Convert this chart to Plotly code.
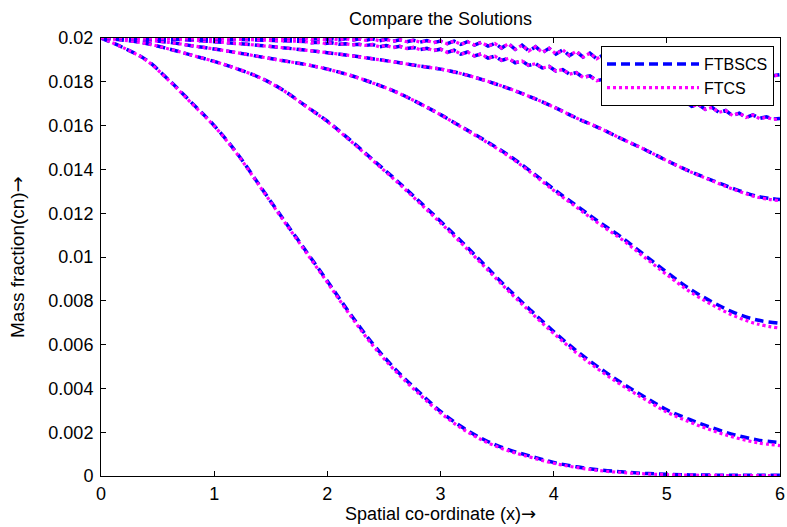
import plotly.graph_objects as go

# ---------------- data ----------------
x_coarse = [0.0, 0.2, 0.4, 0.6, 0.8, 1.0, 1.2, 1.4, 1.6, 1.8, 2.0, 2.2, 2.4, 2.6, 2.8,
            3.0, 3.2, 3.4, 3.6, 3.8, 4.0, 4.2, 4.4, 4.6, 4.8, 5.0, 5.2, 5.4, 5.6, 5.8, 6.0]

x_osc = [0.0, 0.6, 1.2,
         1.80, 1.86, 1.92, 1.98, 2.04, 2.10, 2.16, 2.22, 2.28, 2.34,
         2.40, 2.46, 2.52, 2.58, 2.64, 2.70, 2.76, 2.82, 2.88, 2.94,
         3.00, 3.06, 3.12, 3.18, 3.24, 3.30, 3.36, 3.42, 3.48, 3.54,
         3.60, 3.66, 3.72, 3.78, 3.84, 3.90, 3.96, 4.02, 4.08, 4.14,
         4.20, 4.26, 4.32, 4.38, 4.44, 4.50, 4.56, 4.62, 4.68, 4.74,
         4.80, 4.86, 4.92, 4.98, 5.04, 5.10, 5.16, 5.22, 5.28, 5.34,
         5.40, 5.46, 5.52, 5.58, 5.64, 5.70, 5.76, 5.82, 5.88, 5.94,
         6.00]

ftbscs_t1 = [0.02000, 0.01955, 0.01900, 0.01808, 0.01705, 0.01600, 0.01475, 0.01328, 0.01180,
             0.01035, 0.00890, 0.00742, 0.00605, 0.00488, 0.00388, 0.00295, 0.00220, 0.00162,
             0.00120, 0.00090, 0.00062, 0.00042, 0.00028, 0.00019, 0.00012, 0.00008, 0.00005,
             0.00004, 0.00003, 0.00003, 0.00003]
ftcs_t1 = [0.02000, 0.01955, 0.01898, 0.01806, 0.01702, 0.01598, 0.01472, 0.01325, 0.01176,
           0.01030, 0.00884, 0.00735, 0.00597, 0.00480, 0.00380, 0.00288, 0.00213, 0.00156,
           0.00115, 0.00085, 0.00058, 0.00039, 0.00025, 0.00016, 0.00010, 0.00006, 0.00004,
           0.00003, 0.00002, 0.00002, 0.00002]

ftbscs_t2 = [0.02000, 0.01990, 0.01975, 0.01950, 0.01922, 0.01893, 0.01860, 0.01820, 0.01765,
             0.01693, 0.01620, 0.01535, 0.01445, 0.01355, 0.01260, 0.01163, 0.01063, 0.00958,
             0.00853, 0.00755, 0.00660, 0.00572, 0.00495, 0.00425, 0.00362, 0.00302, 0.00258,
             0.00220, 0.00188, 0.00165, 0.00152]
ftcs_t2 = [0.02000, 0.01990, 0.01975, 0.01950, 0.01922, 0.01893, 0.01860, 0.01820, 0.01764,
           0.01692, 0.01618, 0.01532, 0.01441, 0.01350, 0.01254, 0.01156, 0.01055, 0.00950,
           0.00845, 0.00746, 0.00651, 0.00563, 0.00485, 0.00415, 0.00352, 0.00292, 0.00247,
           0.00208, 0.00176, 0.00152, 0.00139]

ftbscs_t3 = [0.02000, 0.01998, 0.01990, 0.01980, 0.01965, 0.01950, 0.01933, 0.01915, 0.01897,
             0.01880, 0.01858, 0.01830, 0.01795, 0.01755, 0.01705, 0.01650, 0.01590, 0.01530,
             0.01465, 0.01390, 0.01310, 0.01235, 0.01160, 0.01090, 0.01010, 0.00930, 0.00855,
             0.00795, 0.00745, 0.00712, 0.00697]
ftcs_t3 = [0.02000, 0.01998, 0.01990, 0.01980, 0.01965, 0.01950, 0.01933, 0.01915, 0.01897,
           0.01880, 0.01858, 0.01830, 0.01795, 0.01755, 0.01705, 0.01650, 0.01588, 0.01527,
           0.01461, 0.01385, 0.01304, 0.01228, 0.01152, 0.01081, 0.01000, 0.00919, 0.00843,
           0.00782, 0.00730, 0.00694, 0.00675]

ftbscs_t4 = [0.02000, 0.02000, 0.01998, 0.01995, 0.01990, 0.01983, 0.01975, 0.01966, 0.01956,
             0.01945, 0.01933, 0.01920, 0.01905, 0.01890, 0.01873, 0.01858, 0.01835, 0.01805,
             0.01770, 0.01730, 0.01685, 0.01635, 0.01590, 0.01540, 0.01492, 0.01440, 0.01392,
             0.01350, 0.01310, 0.01277, 0.01262]
ftcs_t4 = [0.02000, 0.02000, 0.01998, 0.01995, 0.01990, 0.01983, 0.01975, 0.01966, 0.01956,
           0.01945, 0.01933, 0.01920, 0.01905, 0.01890, 0.01873, 0.01858, 0.01835, 0.01805,
           0.01770, 0.01730, 0.01685, 0.01635, 0.01590, 0.01540, 0.01492, 0.01440, 0.01391,
           0.01348, 0.01307, 0.01273, 0.01257]

ftbscs_t5 = [0.02000, 0.01999, 0.01994,
             0.01984, 0.01978, 0.01981, 0.01975, 0.01978, 0.01972, 0.01974, 0.01969, 0.01971, 0.01966,
             0.01970, 0.01960, 0.01966, 0.01956, 0.01962, 0.01952, 0.01957, 0.01947, 0.01953, 0.01943,
             0.01949, 0.01934, 0.01944, 0.01926, 0.01936, 0.01918, 0.01927, 0.01908, 0.01917, 0.01898,
             0.01907, 0.01887, 0.01895, 0.01875, 0.01883, 0.01863, 0.01870, 0.01849, 0.01856, 0.01835,
             0.01842, 0.01820, 0.01827, 0.01805, 0.01812, 0.01790, 0.01794, 0.01773, 0.01776, 0.01755,
             0.01758, 0.01737, 0.01740, 0.01719, 0.01725, 0.01702, 0.01711, 0.01688, 0.01696, 0.01674,
             0.01683, 0.01660, 0.01669, 0.01646, 0.01657, 0.01637, 0.01649, 0.01633, 0.01640, 0.01630,
             0.01632]
ftcs_t5 = [0.02000, 0.01999, 0.01994,
           0.01984, 0.01978, 0.01981, 0.01975, 0.01978, 0.01972, 0.01974, 0.01969, 0.01971, 0.01966,
           0.01970, 0.01960, 0.01966, 0.01956, 0.01962, 0.01952, 0.01957, 0.01947, 0.01953, 0.01943,
           0.01949, 0.01934, 0.01944, 0.01926, 0.01936, 0.01918, 0.01927, 0.01908, 0.01917, 0.01898,
           0.01907, 0.01887, 0.01895, 0.01875, 0.01883, 0.01863, 0.01870, 0.01849, 0.01856, 0.01835,
           0.01842, 0.01820, 0.01827, 0.01805, 0.01812, 0.01790, 0.01794, 0.01773, 0.01776, 0.01755,
           0.01758, 0.01737, 0.01740, 0.01719, 0.01725, 0.01702, 0.01711, 0.01688, 0.01696, 0.01674,
           0.01683, 0.01660, 0.01669, 0.01646, 0.01657, 0.01637, 0.01648, 0.01632, 0.01638, 0.01628,
           0.01630]

ftbscs_t6 = [0.02000, 0.02000, 0.01999,
             0.01999, 0.01994, 0.01998, 0.01993, 0.01997, 0.01991, 0.01997, 0.01990, 0.01996, 0.01989,
             0.01996, 0.01987, 0.01994, 0.01985, 0.01992, 0.01983, 0.01990, 0.01981, 0.01988, 0.01979,
             0.01986, 0.01974, 0.01986, 0.01971, 0.01983, 0.01968, 0.01980, 0.01963, 0.01975, 0.01954,
             0.01974, 0.01948, 0.01967, 0.01941, 0.01960, 0.01934, 0.01953, 0.01927, 0.01946, 0.01920,
             0.01939, 0.01913, 0.01931, 0.01905, 0.01923, 0.01897, 0.01914, 0.01892, 0.01907, 0.01886,
             0.01900, 0.01879, 0.01894, 0.01872, 0.01887, 0.01865, 0.01880, 0.01859, 0.01873, 0.01852,
             0.01867, 0.01845, 0.01860, 0.01842, 0.01852, 0.01838, 0.01848, 0.01833, 0.01843, 0.01828,
             0.01833]
ftcs_t6 = [0.02000, 0.02000, 0.01999,
           0.01999, 0.01994, 0.01998, 0.01993, 0.01997, 0.01991, 0.01997, 0.01990, 0.01996, 0.01989,
           0.01996, 0.01987, 0.01994, 0.01985, 0.01992, 0.01983, 0.01990, 0.01981, 0.01988, 0.01979,
           0.01986, 0.01974, 0.01986, 0.01971, 0.01983, 0.01968, 0.01980, 0.01963, 0.01975, 0.01954,
           0.01974, 0.01948, 0.01967, 0.01941, 0.01960, 0.01934, 0.01953, 0.01927, 0.01946, 0.01920,
           0.01939, 0.01913, 0.01931, 0.01905, 0.01923, 0.01897, 0.01914, 0.01892, 0.01907, 0.01886,
           0.01900, 0.01879, 0.01894, 0.01872, 0.01887, 0.01865, 0.01880, 0.01859, 0.01873, 0.01852,
           0.01867, 0.01845, 0.01860, 0.01842, 0.01851, 0.01837, 0.01847, 0.01832, 0.01842, 0.01827,
           0.01831]

x_tick_vals = [0, 1, 2, 3, 4, 5, 6]
x_tick_text = ["0", "1", "2", "3", "4", "5", "6"]
y_tick_vals = [0, 0.002, 0.004, 0.006, 0.008, 0.01, 0.012, 0.014, 0.016, 0.018, 0.02]
y_tick_text = ["0", "0.002", "0.004", "0.006", "0.008", "0.01", "0.012", "0.014",
               "0.016", "0.018", "0.02"]

# ---------------- figure ----------------
W, H = 787, 527
ML, MR, MT, MB = 101, 7, 38, 51
PW, PH = W - ML - MR, H - MT - MB

BLUE = "#0000ff"
MAGENTA = "#ff00ff"
FONT = "Liberation Sans, Arial, Helvetica, sans-serif"
ARROW = '<span style="font-family:DejaVu Sans">\u2192</span>'

groups = [
    (x_coarse, [(ftbscs_t1, ftcs_t1), (ftbscs_t2, ftcs_t2),
                (ftbscs_t3, ftcs_t3), (ftbscs_t4, ftcs_t4)], "spline"),
    (x_osc, [(ftbscs_t5, ftcs_t5), (ftbscs_t6, ftcs_t6)], "linear"),
]

fig = go.Figure()
first = True
for xs, pairs, shape in groups:
    for yb, ym in pairs:
        fig.add_trace(go.Scatter(
            x=xs, y=yb, mode="lines", name="FTBSCS", legendgroup="FTBSCS",
            showlegend=first,
            line=dict(color=BLUE, width=3.5, dash="9px,5px", shape=shape)))
        fig.add_trace(go.Scatter(
            x=xs, y=ym, mode="lines", name="FTCS", legendgroup="FTCS",
            showlegend=first,
            line=dict(color=MAGENTA, width=3.2, dash="3px,3px", shape=shape)))
        first = False

fig.update_layout(
    template="none",
    width=W, height=H,
    autosize=False,
    margin=dict(l=ML, r=MR, t=MT, b=MB, pad=0),
    paper_bgcolor="white", plot_bgcolor="white",
    font=dict(family=FONT, size=18, color="black"),
    title=dict(text="Compare the Solutions", x=0.5, xref="paper", xanchor="center",
               y=1 - 19 / H, yref="container", yanchor="middle",
               font=dict(family=FONT, size=18, color="black")),
    showlegend=True,
    legend=dict(x=(774 - ML) / PW, y=(H - MB - 46) / PH, xanchor="right", yanchor="top",
                bgcolor="white", bordercolor="black", borderwidth=1,
                font=dict(family=FONT, size=16, color="black"),
                itemwidth=92, tracegroupgap=0),
    hovermode=False,
    annotations=[
        dict(text="Spatial co-ordinate (x)" + ARROW, xref="paper", yref="paper",
             x=0.5, y=-(513 - (H - MB)) / PH, xanchor="center", yanchor="middle",
             showarrow=False, font=dict(family=FONT, size=18, color="black")),
        dict(text="Mass fraction(cn)" + ARROW, xref="paper", yref="paper",
             x=-(ML - 17) / PW, y=0.5, xanchor="center", yanchor="middle", textangle=-90,
             showarrow=False, font=dict(family=FONT, size=19, color="black")),
    ],
)

fig.update_xaxes(
    range=[0, 6], tickmode="array", tickvals=x_tick_vals, ticktext=x_tick_text,
    ticks="inside", ticklen=5, tickwidth=1, tickcolor="black",
    showline=True, linecolor="black", linewidth=1, mirror="ticks",
    showgrid=False, zeroline=False, automargin=False,
    ticklabelstandoff=1,
    tickfont=dict(family=FONT, size=18, color="black"),
)
fig.update_yaxes(
    range=[0, 0.02], tickmode="array", tickvals=y_tick_vals, ticktext=y_tick_text,
    ticks="inside", ticklen=5, tickwidth=1, tickcolor="black",
    showline=True, linecolor="black", linewidth=1, mirror="ticks",
    showgrid=False, zeroline=False, automargin=False,
    ticklabelstandoff=3,
    tickfont=dict(family=FONT, size=18, color="black"),
)

fig.write_html(
    "out.html",
    config={"displayModeBar": False},
    post_script="document.body.style.margin='0px';document.body.style.padding='0px';"
                "document.body.style.overflow='hidden';",
)
